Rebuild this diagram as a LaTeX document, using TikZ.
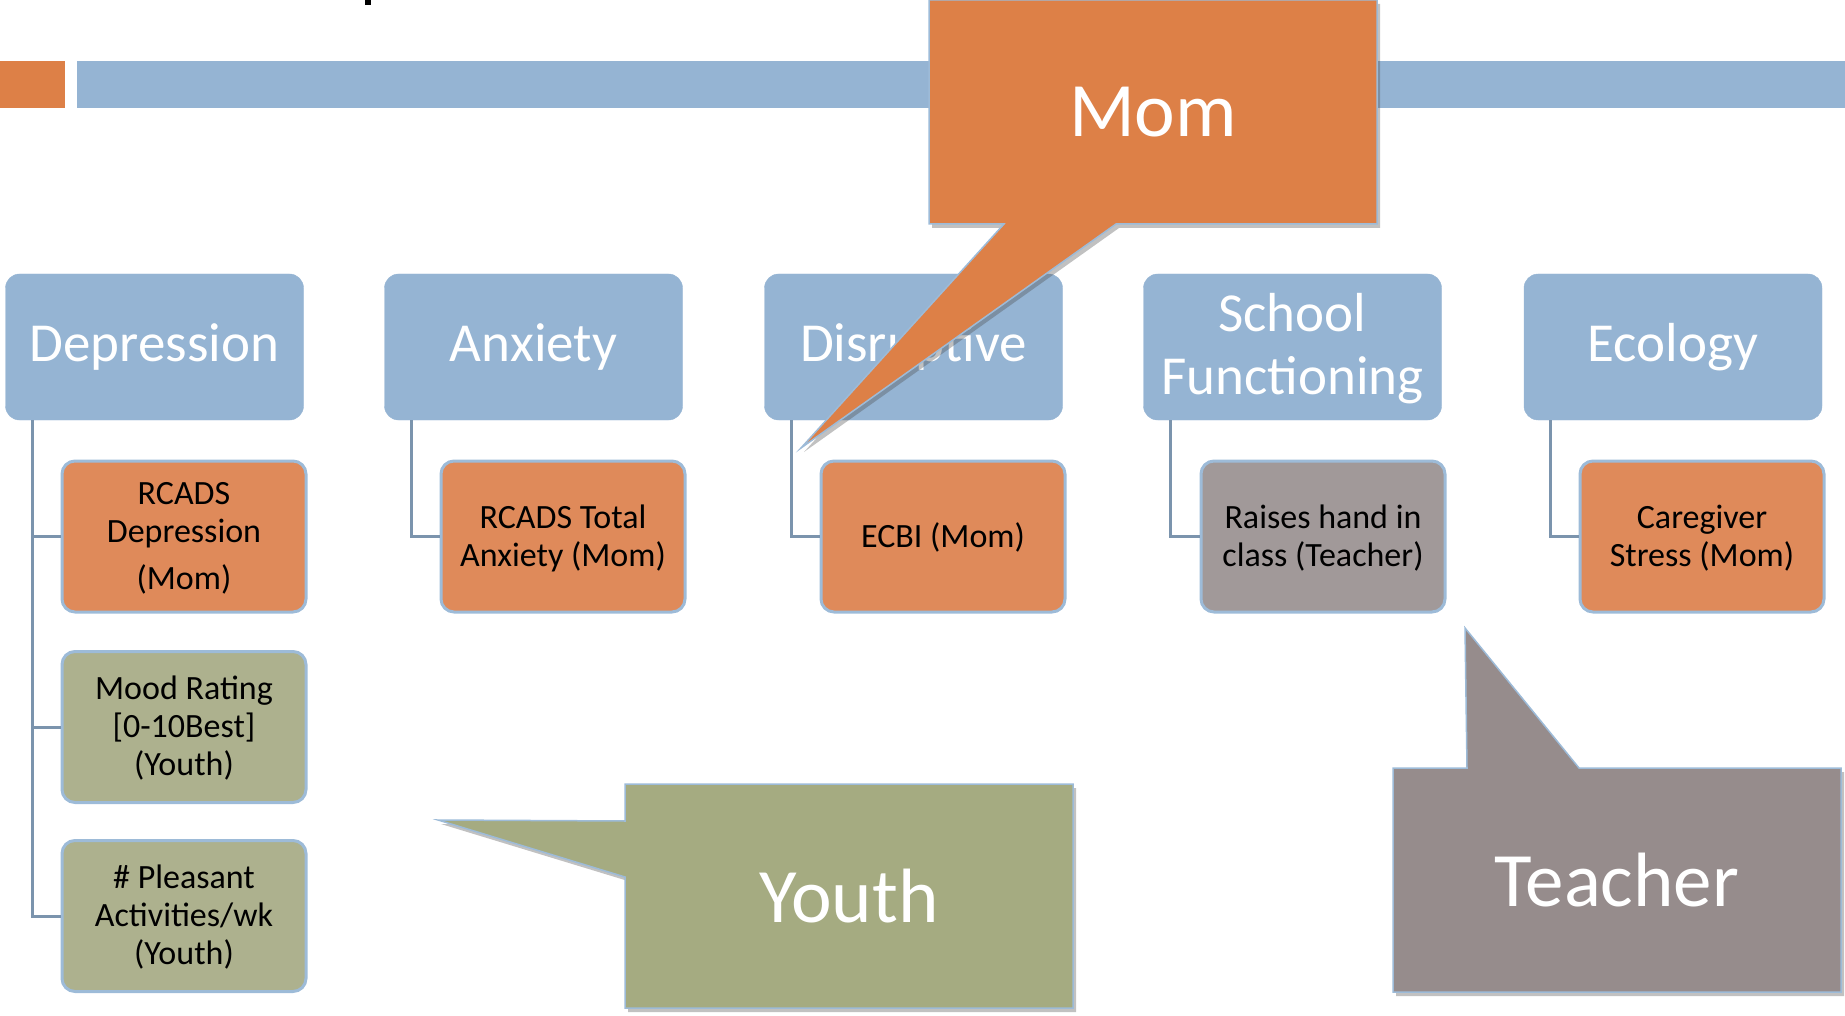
\documentclass[tikz,border=0pt]{standalone}
\usepackage{fontspec}
\usepackage{graphicx}
\setmainfont{Carlito}
\usetikzlibrary{calc,shadows}
\definecolor{catblue}{HTML}{95B4D3}
\definecolor{subborder}{HTML}{9DBBD8}
\definecolor{linecol}{HTML}{7B94AD}
\definecolor{momor}{HTML}{DD8047}
\definecolor{suborange}{HTML}{DF8A5A}
\definecolor{youthgr}{HTML}{A5AB81}
\definecolor{subgreen}{HTML}{ADB18E}
\definecolor{teachgr}{HTML}{968C8C}
\definecolor{subgray}{HTML}{A19999}
\newcommand{\st}[1]{\raisebox{-3pt}[\height][\depth]{\begin{tabular}{@{}c@{}}#1\end{tabular}}}
\tikzset{
  cat/.style={rectangle, rounded corners=14pt, fill=catblue, draw=catblue, minimum width=298pt, minimum height=146pt, text=white, align=center, font=\fontsize{55}{63}\selectfont, inner sep=0pt},
  sub/.style={rectangle, rounded corners=13pt, draw=subborder, line width=3pt, minimum width=244pt, minimum height=151pt, text=black, align=center, font=\fontsize{34}{38}\selectfont, inner sep=0pt},
  conn/.style={draw=linecol, line width=3pt},
  callout/.style={draw=subborder, line width=1.5pt, line join=miter, drop shadow={shadow xshift=3pt, shadow yshift=-4pt, opacity=0.35, fill=black!70}},
  calltext/.style={text=white, font=\fontsize{77}{90}\selectfont, inner sep=0pt}
}
\begin{document}
\begin{tikzpicture}[x=1pt,y=-1pt]
\useasboundingbox (0,0) rectangle (1845,1016);
% header bars
\fill[momor] (0,61) rectangle (65,108);
\fill[catblue] (77,61) rectangle (1845,108);
\fill[black] (365,0) rectangle (371,5);
% category boxes
\node[cat] (dep) at (154.5,347) {Depression};
\node[cat] (anx) at (533.5,347) {Anxiety};
\node[cat] (dis) at (913.5,347) {Disruptive};
\node[cat] (sch) at (1292.5,347) {\st{School\\Functioning}};
\node[cat] (eco) at (1673,347) {Ecology};
% sub boxes
\node[sub, fill=suborange] (d1) at (184,536.5) {\st{RCADS\\Depression\\[9pt](Mom)}};
\node[sub, fill=subgreen] (d2) at (184,727) {\st{Mood Rating\\{}[0-10Best]\\(Youth)}};
\node[sub, fill=subgreen] (d3) at (184,916) {\st{\# Pleasant\\Activities/wk\\(Youth)}};
\node[sub, fill=suborange] (a1) at (563,536.5) {\st{RCADS Total\\Anxiety (Mom)}};
\node[sub, fill=suborange] (r1) at (943,536.5) {\st{ECBI (Mom)}};
\node[sub, fill=subgray] (s1) at (1323,536.5) {\st{Raises hand in\\class (Teacher)}};
\node[sub, fill=suborange] (e1) at (1702,536.5) {\st{Caregiver\\Stress (Mom)}};
% connectors
\draw[conn] ($(dep.south west)+(27,0)$) |- (d1.west);
\draw[conn] ($(dep.south west)+(27,0)$) |- (d2.west);
\draw[conn] ($(dep.south west)+(27,0)$) |- (d3.west);
\draw[conn] ($(anx.south west)+(27,0)$) |- (a1.west);
\draw[conn] ($(dis.south west)+(27,0)$) |- (r1.west);
\draw[conn] ($(sch.south west)+(27,0)$) |- (s1.west);
\draw[conn] ($(eco.south west)+(27,0)$) |- (e1.west);
% callouts
\path[callout, fill=momor] (929,0) -- (1377,0) -- (1377,224) -- (1116,224) -- (801,448) -- (1004,224) -- (929,224) -- cycle;
\node[calltext] (mom) at (1153,112) {Mom};
\path[callout, fill=youthgr] (625,784) -- (1073,784) -- (1073,1008) -- (625,1008) -- (625,877) -- (438,820) -- (625,821) -- cycle;
\node[calltext] (youth) at (849,896) {Youth};
\path[callout, fill=teachgr] (1393,768) -- (1467,768) -- (1465,628) -- (1579,768) -- (1841,768) -- (1841,992) -- (1393,992) -- cycle;
\node[calltext] (teacher) at (1617,880) {Teacher};
\end{tikzpicture}
\end{document}
